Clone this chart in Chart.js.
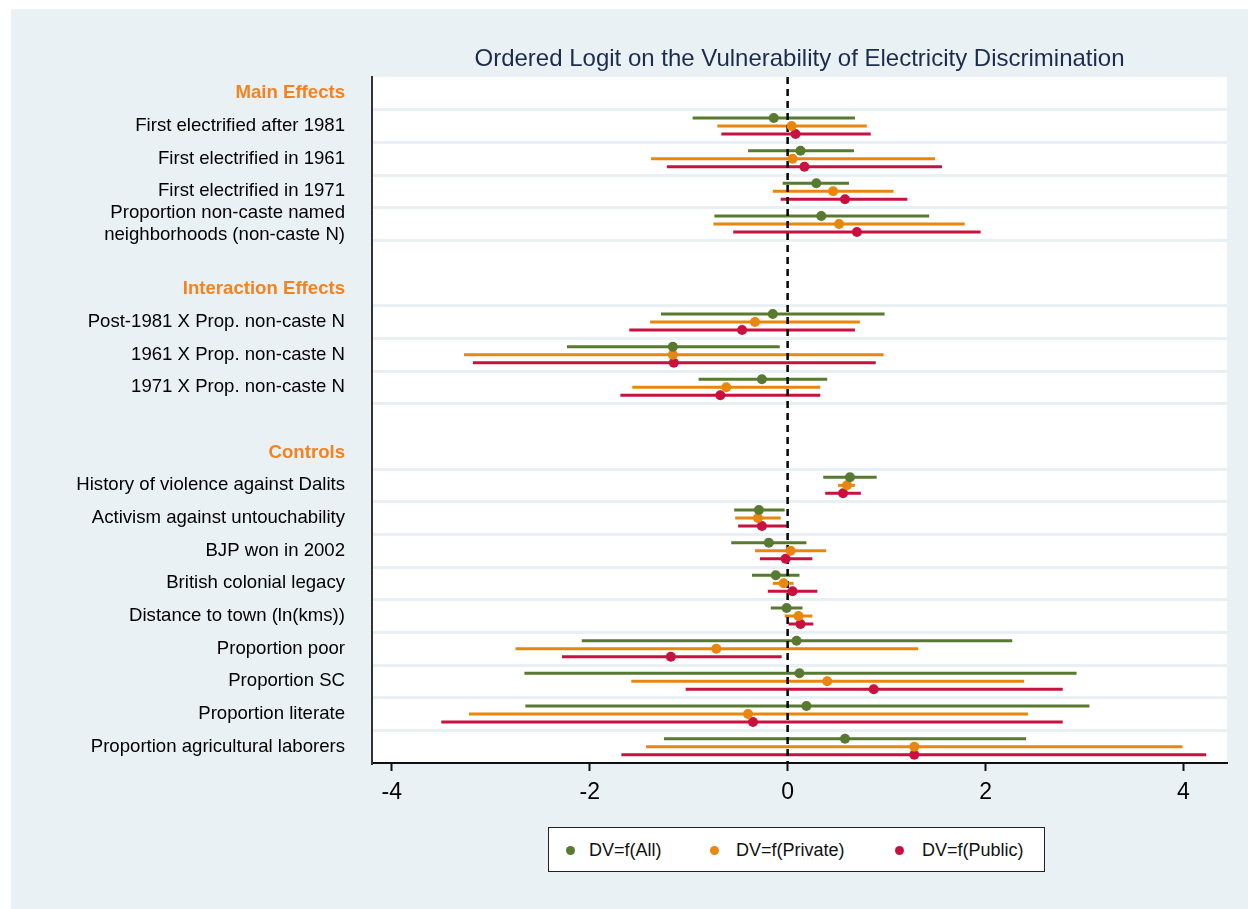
<!DOCTYPE html>
<html>
<head>
<meta charset="utf-8">
<script src="https://cdn.jsdelivr.net/npm/chart.js@4"></script>
<style>
    body { margin: 0; background: #ffffff; font-family: 'Liberation Sans', Arial, Helvetica, sans-serif; }
    #panel { position: absolute; left: 11px; top: 9px; width: 1237px; height: 900px; background: #eaf1f4; }
    #coefplot { position: absolute; left: 0; top: 0; }
    #title { position: absolute; left: 372px; width: 855px; top: 45px; text-align: center;
             font-size: 24px; line-height: 26px; color: #1c2c4c; }
    #legend { position: absolute; left: 548px; top: 827px; width: 495px; height: 43px;
              background: #ffffff; border: 1.5px solid #222; }
    #legend .dot { position: absolute; top: 18px; width: 9px; height: 9px; border-radius: 50%; }
    #legend .txt { position: absolute; top: 12px; font-size: 18px; line-height: 21px; color: #111; }
</style>
</head>
<body>
<div id="panel"></div>
<canvas id="coefplot" width="1248" height="909"></canvas>
<div id="title">Ordered Logit on the Vulnerability of Electricity Discrimination</div>
<div id="legend"></div>
<script>
// rows top to bottom, headers and blank spacer rows included
const rowLabels = [
    'Main Effects',
    'First electrified after 1981',
    'First electrified in 1961',
    'First electrified in 1971',
    ['Proportion non-caste named', 'neighborhoods (non-caste N)'],
    '',
    'Interaction Effects',
    'Post-1981 X Prop. non-caste N',
    '1961 X Prop. non-caste N',
    '1971 X Prop. non-caste N',
    '',
    'Controls',
    'History of violence against Dalits',
    'Activism against untouchability',
    'BJP won in 2002',
    'British colonial legacy',
    'Distance to town (ln(kms))',
    'Proportion poor',
    'Proportion SC',
    'Proportion literate',
    'Proportion agricultural laborers'
];
const headerRows = [0, 6, 11];
const gridRows = [1, 2, 3, 4, 5, 7, 8, 9, 10, 12, 13, 14, 15, 16, 17, 18, 19, 20];
const xTicks = [-4, -2, 0, 2, 4];

const seriesNames = ['DV=f(All)', 'DV=f(Private)', 'DV=f(Public)'];
const seriesColors = ['#587a30', '#e8860e', '#c9113f'];

// point estimates and 95% bounds, null on header / spacer rows
const allEst = [null, -0.14, 0.13, 0.29, 0.34, null, null, -0.15, -1.16, -0.26, null, null,
    0.63, -0.29, -0.19, -0.12, -0.01, 0.09, 0.12, 0.19, 0.58];
const allLo = [null, -0.96, -0.40, -0.05, -0.74, null, null, -1.28, -2.23, -0.90, null, null,
    0.36, -0.54, -0.57, -0.36, -0.17, -2.08, -2.66, -2.65, -1.25];
const allHi = [null, 0.68, 0.67, 0.62, 1.43, null, null, 0.98, -0.08, 0.40, null, null,
    0.90, -0.03, 0.19, 0.12, 0.15, 2.27, 2.92, 3.05, 2.41];

const privEst = [null, 0.04, 0.05, 0.46, 0.52, null, null, -0.33, -1.16, -0.62, null, null,
    0.60, -0.30, 0.03, -0.04, 0.11, -0.72, 0.40, -0.40, 1.28];
const privLo = [null, -0.71, -1.38, -0.15, -0.75, null, null, -1.39, -3.27, -1.57, null, null,
    0.51, -0.53, -0.33, -0.15, -0.03, -2.75, -1.58, -3.22, -1.43];
const privHi = [null, 0.80, 1.49, 1.07, 1.79, null, null, 0.73, 0.97, 0.33, null, null,
    0.68, -0.07, 0.39, 0.06, 0.25, 1.32, 2.39, 2.43, 3.99];

const pubEst = [null, 0.08, 0.17, 0.58, 0.70, null, null, -0.46, -1.15, -0.68, null, null,
    0.56, -0.26, -0.02, 0.05, 0.13, -1.18, 0.87, -0.35, 1.28];
const pubLo = [null, -0.67, -1.22, -0.07, -0.55, null, null, -1.60, -3.18, -1.69, null, null,
    0.38, -0.50, -0.28, -0.20, 0.01, -2.28, -1.03, -3.50, -1.68];
const pubHi = [null, 0.84, 1.56, 1.21, 1.95, null, null, 0.68, 0.89, 0.33, null, null,
    0.74, -0.01, 0.25, 0.30, 0.26, -0.06, 2.78, 2.78, 4.23];

const ROW_OFF = 0.245;  // vertical spread of the three models inside a row

const estimates = [allEst, privEst, pubEst];
const lowers = [allLo, privLo, pubLo];
const uppers = [allHi, privHi, pubHi];

// fills the plot region white, the outer panel is the css div
const plotBackground = {
    id: 'plotBackground',
    beforeDraw(chart) {
        const a = chart.chartArea;
        const ctx = chart.ctx;
        ctx.save();
        ctx.fillStyle = '#ffffff';
        ctx.fillRect(a.left, a.top, a.right - a.left, a.bottom - a.top);
        ctx.restore();
    }
};

Chart.defaults.font.family = "'Liberation Sans', Arial, Helvetica, sans-serif";

const pointSets = estimates.map((est, s) => ({
    type: 'scatter',
    label: seriesNames[s],
    data: est.map((v, i) => v === null ? null : { x: v, y: i + (s - 1) * ROW_OFF }).filter(p => p),
    xAxisID: 'x',
    yAxisID: 'yPts',
    pointRadius: 5,
    pointHoverRadius: 5,
    pointBorderWidth: 0,
    backgroundColor: seriesColors[s],
    borderColor: seriesColors[s]
}));

const zeroLine = {
    type: 'line',
    label: 'zero',
    data: [{ x: 0, y: -0.5 }, { x: 0, y: 20.5 }],
    xAxisID: 'x',
    yAxisID: 'yPts',
    borderColor: '#000000',
    borderWidth: 2.5,
    borderDash: [7, 5],
    pointRadius: 0
};

const ciBars = lowers.map((lo, s) => ({
    type: 'bar',
    label: seriesNames[s] + ' CI',
    indexAxis: 'y',
    data: lo.map((v, i) => v === null ? null : [v, uppers[s][i]]),
    xAxisID: 'x',
    yAxisID: 'y',
    backgroundColor: seriesColors[s],
    borderWidth: 0,
    categoryPercentage: ROW_OFF * 3,
    barPercentage: 0.375,
    maxBarThickness: 3
}));

const chart = new Chart(document.getElementById('coefplot'), {
    type: 'bar',
    data: {
        labels: rowLabels,
        datasets: [...pointSets, zeroLine, ...ciBars]
    },
    options: {
        responsive: false,
        animation: false,
        layout: { padding: { left: 0, right: 21, top: 77, bottom: 106 } },
        plugins: {
            legend: { display: false },
            tooltip: { enabled: false },
            title: { display: false }
        },
        scales: {
            x: {
                type: 'linear',
                position: 'bottom',
                min: -4.2,
                max: 4.44,
                offset: false,
                afterBuildTicks: (scale) => { scale.ticks = xTicks.map(v => ({ value: v })); },
                afterFit: (scale) => { scale.height = 40; },
                grid: {
                    offset: false,
                    drawOnChartArea: false,
                    drawTicks: true,
                    tickLength: 8,
                    tickWidth: 2,
                    tickColor: '#111111'
                },
                border: { display: true, color: '#111111', width: 2 },
                ticks: {
                    color: '#000000',
                    font: { size: 23 },
                    padding: 8,
                    maxRotation: 0
                }
            },
            y: {
                type: 'category',
                position: 'left',
                labels: rowLabels,
                offset: true,
                afterFit: (scale) => { scale.width = 372; },
                grid: {
                    offset: true,
                    drawTicks: false,
                    lineWidth: 3,
                    color: (ctx) => gridRows.includes(ctx.index) ? '#e9f0f4' : 'rgba(0,0,0,0)'
                },
                border: { display: true, color: '#333333', width: 2 },
                ticks: {
                    autoSkip: false,
                    padding: 27,
                    color: (ctx) => headerRows.includes(ctx.index) ? '#f5821f' : '#000000',
                    font: (ctx) => headerRows.includes(ctx.index)
                        ? { size: 18.6, weight: 'bold' }
                        : { size: 18.6 }
                }
            },
            yPts: {
                type: 'linear',
                display: false,
                min: -0.5,
                max: 20.5,
                reverse: true
            }
        }
    },
    plugins: [plotBackground]
});

// legend box under the plot, built from the same series arrays
const legendBox = document.getElementById('legend');
const dotLeft = [17, 161, 346];
const txtLeft = [40, 187, 373];
seriesNames.forEach((name, s) => {
    const dot = document.createElement('span');
    dot.className = 'dot';
    dot.style.left = dotLeft[s] + 'px';
    dot.style.background = seriesColors[s];
    const txt = document.createElement('span');
    txt.className = 'txt';
    txt.style.left = txtLeft[s] + 'px';
    txt.textContent = name;
    legendBox.appendChild(dot);
    legendBox.appendChild(txt);
});
</script>
</body>
</html>
